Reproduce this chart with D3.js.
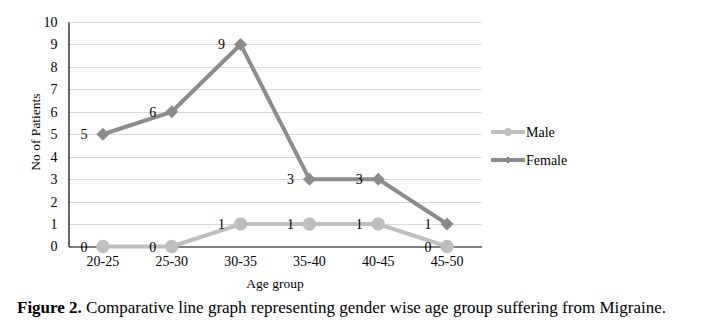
<html>
<head>
    <script src="https://d3js.org/d3.v7.min.js"></script>
    <style type="text/css">
        body { margin: 0; background: #fff; }
        text { font-family: "Liberation Serif", "Times New Roman", serif; fill: #000; }
        line.grid { stroke: #d9d9d9; stroke-width: 1; }
    </style>
</head>
<body>
    <svg></svg>
    <script>
        const categories = ["20-25", "25-30", "30-35", "35-40", "40-45", "45-50"];
        const male = [0, 0, 1, 1, 1, 0];
        const female = [5, 6, 9, 3, 3, 1];
        const yTicks = [0, 1, 2, 3, 4, 5, 6, 7, 8, 9, 10];

        const W = 701, H = 333;
        const plotLeft = 68.5, plotRight = 481.5, plotTop = 22, plotBottom = 246.5;

        var svg = d3.select("svg").attr("width", W).attr("height", H);

        var x = d3.scaleBand().domain(categories).range([plotLeft, plotRight]);
        var y = d3.scaleLinear().domain([0, 10]).range([plotBottom, plotTop]);
        const cx = (c) => x(c) + x.bandwidth()/2;

        // gridlines
        svg.selectAll("line.grid")
            .data(yTicks.filter(t => t > 0))
            .enter().append("line").classed("grid", true)
                .attr("x1", plotLeft).attr("x2", plotRight)
                .attr("y1", (d) => Math.round(y(d)) + 0.5)
                .attr("y2", (d) => Math.round(y(d)) + 0.5);

        // y axis
        var yAxis = svg.append("g")
            .attr("transform", "translate(" + plotLeft + ",0)")
            .call(d3.axisLeft(y).tickValues(yTicks).tickSize(0).tickPadding(11));
        yAxis.select(".domain").attr("stroke", "#000").attr("stroke-width", 1.2);
        yAxis.selectAll("text").attr("font-size", 14).attr("font-family", null);

        // x axis
        var xAxis = svg.append("g")
            .attr("transform", "translate(0," + plotBottom + ")")
            .call(d3.axisBottom(x).tickSize(0).tickPadding(10));
        xAxis.select(".domain").attr("stroke", "#000").attr("stroke-width", 1.2);
        xAxis.selectAll("text").attr("font-size", 14).attr("font-family", null);

        // axis titles
        svg.append("text")
            .attr("x", (plotLeft + plotRight)/2).attr("y", 288)
            .attr("text-anchor", "middle").attr("font-size", 13.5)
            .text("Age group");
        svg.append("text")
            .attr("transform", "translate(40," + 132 + ") rotate(-90)")
            .attr("text-anchor", "middle").attr("font-size", 13.5)
            .text("No of Patients");

        var line = d3.line().x((d, i) => cx(categories[i])).y((d) => y(d));

        const series = [
            { name: "Male", values: male, color: "#bfbfbf", shape: d3.symbolCircle, size: 140, rot: 0 },
            { name: "Female", values: female, color: "#8c8c8c", shape: d3.symbolSquare, size: 85, rot: 45 }
        ];

        series.forEach(function(s) {
            svg.append("path")
                .attr("d", line(s.values))
                .attr("fill", "none")
                .attr("stroke", s.color)
                .attr("stroke-width", 4)
                .attr("stroke-linejoin", "round");
            svg.selectAll(null)
                .data(s.values)
                .enter().append("path")
                    .attr("transform", (d, i) => "translate(" + cx(categories[i]) + "," + y(d) + ") rotate(" + s.rot + ")")
                    .attr("d", d3.symbol().type(s.shape).size(s.size))
                    .attr("fill", s.color);
        });

        // data labels
        series.forEach(function(s) {
            svg.selectAll(null)
                .data(s.values)
                .enter().append("text")
                    .attr("x", (d, i) => cx(categories[i]) - 15.5)
                    .attr("y", (d) => y(d) + 5)
                    .attr("text-anchor", "end")
                    .attr("font-size", 14)
                    .text((d) => d);
        });

        // legend
        var legend = svg.selectAll("g.legend")
            .data(series)
            .enter().append("g").classed("legend", true)
                .attr("transform", (d, i) => "translate(491," + (132 + i*28) + ")");
        legend.append("line")
            .attr("x1", 0).attr("x2", 34)
            .attr("stroke", (d) => d.color).attr("stroke-width", 4);
        legend.append("path")
            .attr("transform", (d) => "translate(17,0) rotate(" + d.rot + ")")
            .attr("d", (d) => d3.symbol().type(d.shape).size(d.size * 0.35)())
            .attr("fill", (d) => d.color);
        legend.append("text")
            .attr("x", 35).attr("y", 5)
            .attr("font-size", 14)
            .text((d) => d.name);

        // caption
        var cap = svg.append("text")
            .attr("x", 17).attr("y", 313)
            .attr("font-size", 17);
        cap.append("tspan").attr("font-weight", "bold").text("Figure 2.");
        cap.append("tspan").text(" Comparative line graph representing gender wise age group suffering from Migraine.");
    </script>
</body>
</html>
